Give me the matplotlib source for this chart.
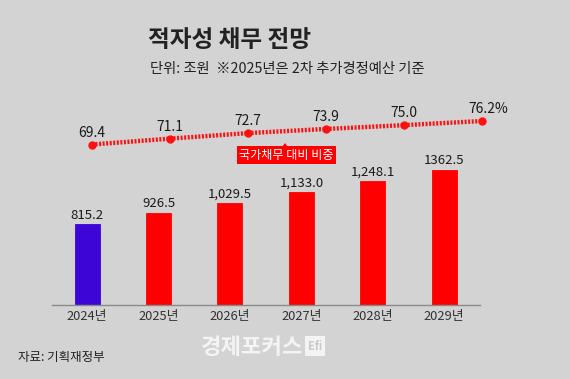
import matplotlib.pyplot as plt
from matplotlib.patches import Polygon

plt.rcParams['font.family'] = ['Noto Sans CJK KR', 'DejaVu Sans']

years = ['2024년', '2025년', '2026년', '2027년', '2028년', '2029년']
debt = [815.2, 926.5, 1029.5, 1133.0, 1248.1, 1362.5]
debt_labels = ['815.2', '926.5', '1,029.5', '1,133.0', '1,248.1', '1362.5']
ratio = [69.4, 71.1, 72.7, 73.9, 75.0, 76.2]
ratio_labels = ['69.4', '71.1', '72.7', '73.9', '75.0', '76.2%']
bar_colors = ['#3d06d6'] + ['#ff0000'] * 5

W, H = 570, 379
bg = '#d3d3d3'

fig = plt.figure(figsize=(W / 100, H / 100), dpi=100, facecolor=bg)

def rect(x0, y0, x1, y1):
    # pixel box (top-left origin) -> figure fraction
    return [x0 / W, 1 - y1 / H, (x1 - x0) / W, (y1 - y0) / H]

# bars
ax = fig.add_axes(rect(52, 100, 480, 305))
ax.set_facecolor('none')
x = range(len(years))
ax.bar(x, debt, width=0.35, color=bar_colors, edgecolor=bar_colors, linewidth=0.6)
for xi, v, lab in zip(x, debt, debt_labels):
    ax.annotate(lab, (xi, v), xytext=(0, 9), textcoords='offset pixels',
                ha='center', va='center', fontsize=9.5, color='#1a1a1a')
ax.set_xlim(-0.49, 5.5)
ax.set_ylim(0, 2064)
ax.set_xticks(list(x))
ax.set_xticklabels(years, fontsize=9.3, color='#333333')
ax.tick_params(axis='x', length=0, pad=3.5)
ax.set_yticks([])
for s in ['top', 'right', 'left']:
    ax.spines[s].set_visible(False)
ax.spines['bottom'].set_color('#8a8a8a')
ax.spines['bottom'].set_linewidth(1)

# ratio line
ax2 = fig.add_axes(rect(60, 100, 520, 200))
ax2.set_facecolor('none')
ax2.axis('off')
ax2.plot(x, ratio, color='#ff1010', linewidth=3.2, linestyle=(0, (0.45, 0.35)),
         dash_capstyle='butt', zorder=2)
ax2.plot(x, ratio, 'o', color='#ff1010', markersize=5, zorder=3)
for xi, v, lab in zip(x, ratio, ratio_labels):
    dx = 6 if lab.endswith('%') else 0
    ax2.annotate(lab, (xi, v), xytext=(dx, 12), textcoords='offset pixels',
                 ha='center', va='center', fontsize=10, color='#1a1a1a')
ax2.set_xlim(-0.41, 5.487)
ax2.set_ylim(53.34, 82.28)

# legend tag for the line
fig.text(286.5 / W, 1 - 155 / H, '국가채무 대비 비중', ha='center', va='center',
         fontsize=8.7, color='white',
         bbox=dict(boxstyle='square,pad=0.2', fc='#ff0000', ec='none'))
fig.add_artist(Polygon([[282, H - 147], [288, H - 147], [285, H - 143]],
                       closed=True, fc='#ff0000', ec='none', transform=None))

# titles
fig.text(148 / W, 1 - 40 / H, '적자성 채무 전망', ha='left', va='center',
         fontsize=17, fontweight='bold', color='#222222')
fig.text(150 / W, 1 - 69 / H, '단위: 조원  ※2025년은 2차 추가경정예산 기준',
         ha='left', va='center', fontsize=10.3, color='#222222')

# source and watermark
fig.text(18 / W, 1 - 357 / H, '자료: 기획재정부', ha='left', va='center',
         fontsize=9, color='#222222')
fig.text(252 / W, 1 - 348 / H, '경제포커스', ha='center', va='center',
         fontsize=16, fontweight='bold', color='#f4f4f4')
fig.text(315 / W, 1 - 346 / H, 'Efi', ha='center', va='center',
         fontsize=8, fontweight='bold', color='#c8c8c8',
         bbox=dict(boxstyle='square,pad=0.3', fc='#f4f4f4', ec='none'))

fig.savefig('out.png', dpi=100, facecolor=bg)
